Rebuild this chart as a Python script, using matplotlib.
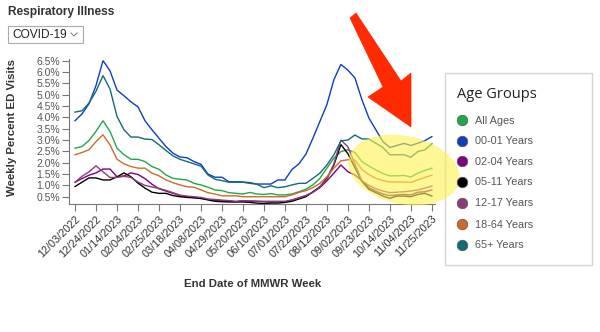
import matplotlib
matplotlib.use("Agg")
import matplotlib.pyplot as plt
from matplotlib.patches import Rectangle, Ellipse, Polygon
from matplotlib.lines import Line2D

plt.rcParams['font.family'] = ['Liberation Sans', 'DejaVu Sans']

# ---------------- data ----------------
tick_labels = ["12/03/2022", "12/24/2022", "01/14/2023", "02/04/2023", "02/25/2023",
               "03/18/2023", "04/08/2023", "04/29/2023", "05/20/2023", "06/10/2023",
               "07/01/2023", "07/22/2023", "08/12/2023", "09/02/2023", "09/23/2023",
               "10/14/2023", "11/04/2023", "11/25/2023"]
n_weeks = 52
weeks = list(range(n_weeks))
tick_weeks = weeks[::3]

group_names = ["All Ages", "00-01 Years", "02-04 Years", "05-11 Years",
               "12-17 Years", "18-64 Years", "65+ Years"]
group_colors = ["#1fa84a", "#0a3fc4", "#800080", "#000000",
                "#8b3c77", "#d06a28", "#136b78"]

all_ages = [2.64, 2.71, 2.98, 3.38, 3.85, 3.38, 2.64, 2.35, 2.15, 2.15, 2.05, 1.83, 1.71,
            1.46, 1.31, 1.27, 1.24, 1.09, 1.02, 0.92, 0.80, 0.77, 0.68, 0.65, 0.62, 0.69,
            0.62, 0.60, 0.64, 0.58, 0.58, 0.62, 0.72, 0.83, 1.02, 1.31, 1.76, 2.20, 2.49,
            2.57, 2.45, 2.05, 1.85, 1.68, 1.52, 1.42, 1.42, 1.44, 1.37, 1.54, 1.66, 1.76]
age_00_01 = [3.85, 4.15, 4.60, 5.40, 6.50, 6.05, 5.20, 4.95, 4.68, 4.46, 3.85, 3.45, 3.08,
             2.71, 2.42, 2.25, 2.22, 2.05, 1.93, 1.50, 1.36, 1.36, 1.16, 1.16, 1.15, 1.12,
             1.06, 1.06, 1.06, 1.24, 1.24, 1.70, 1.95, 2.38, 3.08, 3.82, 4.56, 5.66, 6.33,
             6.08, 5.74, 4.78, 3.97, 3.45, 2.93, 2.67, 2.76, 2.85, 2.76, 2.86, 2.97, 3.15]
age_02_04 = [1.14, 1.30, 1.45, 1.55, 1.72, 1.72, 1.38, 1.42, 1.55, 1.48, 1.30, 1.05, 0.85,
             0.75, 0.65, 0.55, 0.50, 0.47, 0.44, 0.38, 0.35, 0.33, 0.30, 0.28, 0.32, 0.30,
             0.30, 0.28, 0.27, 0.28, 0.27, 0.35, 0.45, 0.55, 0.70, 0.90, 1.20, 1.54, 1.90,
             1.60, 1.46, 1.22, 0.90, 0.75, 0.62, 0.55, 0.58, 0.60, 0.58, 0.70, 0.72, 0.80]
age_05_11 = [0.95, 1.14, 1.33, 1.33, 1.24, 1.24, 1.38, 1.55, 1.38, 1.10, 0.88, 0.70, 0.65,
             0.65, 0.55, 0.50, 0.47, 0.45, 0.42, 0.36, 0.30, 0.28, 0.27, 0.27, 0.27, 0.25,
             0.22, 0.20, 0.22, 0.22, 0.25, 0.30, 0.40, 0.50, 0.72, 0.94, 1.31, 1.90, 2.80,
             2.40, 1.78, 1.18, 0.83, 0.68, 0.53, 0.43, 0.53, 0.53, 0.50, 0.60, 0.65, 0.53]
age_12_17 = [1.14, 1.40, 1.60, 1.86, 1.60, 1.35, 1.35, 1.40, 1.35, 1.15, 1.00, 0.93, 0.87,
             0.78, 0.68, 0.57, 0.53, 0.50, 0.47, 0.40, 0.38, 0.35, 0.33, 0.30, 0.33, 0.32,
             0.30, 0.30, 0.30, 0.30, 0.30, 0.36, 0.45, 0.55, 0.70, 0.92, 1.28, 1.95, 3.00,
             2.70, 1.95, 1.20, 1.00, 0.85, 0.75, 0.68, 0.70, 0.72, 0.75, 0.80, 0.88, 0.97]
age_18_64 = [2.35, 2.45, 2.57, 2.93, 3.23, 2.79, 2.15, 1.95, 1.83, 1.76, 1.76, 1.54, 1.42,
             1.24, 1.12, 1.02, 0.94, 0.92, 0.80, 0.68, 0.62, 0.54, 0.54, 0.54, 0.50, 0.50,
             0.50, 0.50, 0.50, 0.50, 0.50, 0.58, 0.69, 0.77, 0.90, 1.09, 1.38, 1.76, 2.08,
             2.13, 2.12, 1.70, 1.48, 1.31, 1.21, 1.15, 1.15, 1.15, 1.13, 1.24, 1.35, 1.45]
age_65_plus = [4.23, 4.29, 4.63, 5.15, 5.84, 5.25, 4.04, 3.45, 3.13, 3.13, 3.04, 3.02, 2.79,
               2.54, 2.30, 2.15, 2.05, 1.95, 1.85, 1.46, 1.27, 1.21, 1.14, 1.14, 1.14, 1.09,
               1.05, 0.90, 0.98, 0.90, 0.94, 1.02, 1.09, 1.09, 1.31, 1.54, 1.90, 2.35, 2.96,
               3.00, 3.22, 3.05, 3.04, 2.86, 2.67, 2.35, 2.35, 2.35, 2.24, 2.49, 2.57, 2.83]

series = [all_ages, age_00_01, age_02_04, age_05_11, age_12_17, age_18_64, age_65_plus]
y_ticks = [0.5, 1.0, 1.5, 2.0, 2.5, 3.0, 3.5, 4.0, 4.5, 5.0, 5.5, 6.0, 6.5]

# ---------------- figure ----------------
W, H = 600, 332
fig = plt.figure(figsize=(W / 100, H / 100), dpi=100)
fig.patch.set_facecolor("white")

def fx(x):
    return x / W

def fy(y):
    return 1 - y / H

ax = fig.add_axes([fx(69), fy(204), (435 - 69) / W, (204 - 59) / H])
for vals, col in zip(series, group_colors):
    ax.plot(weeks, vals, color=col, lw=1.0, solid_joinstyle="miter")

ax.set_xlim(-0.86, 51.45)
ax.set_ylim(0.18, 6.57)
ax.set_xticks(tick_weeks)
ax.set_xticklabels(tick_labels, rotation=45, ha="right", rotation_mode="anchor",
                   fontsize=7.8, color="#333333")
ax.set_yticks(y_ticks)
ax.set_yticklabels([f"{v:.1f}%" for v in y_ticks], fontsize=7.5, color="#555555")
ax.tick_params(axis="x", length=5, width=0.8, color="#777777", pad=2)
ax.tick_params(axis="y", length=5, width=0.8, color="#777777", pad=1.5)
for s in ["top", "right"]:
    ax.spines[s].set_visible(False)
for s in ["left", "bottom"]:
    ax.spines[s].set_color("#777777")
    ax.spines[s].set_linewidth(0.8)

# axis titles
fig.text(fx(12), fy(128), "Weekly Percent ED Visits", rotation=90, ha="center",
         va="center", fontsize=8.2, fontweight="bold", color="#333333")
fig.text(fx(253), fy(284), "End Date of MMWR Week", ha="center", va="center",
         fontsize=8.2, fontweight="bold", color="#333333")

# header
fig.text(fx(8), fy(12), "Respiratory Illness", ha="left", va="center",
         fontsize=8.6, fontweight="bold", color="#333333")
fig.add_artist(Rectangle((fx(7.5), fy(43)), (83 - 7.5) / W, (43 - 26) / H,
                         transform=fig.transFigure, facecolor="white",
                         edgecolor="#aaaaaa", lw=0.8))
fig.text(fx(12), fy(34.5), "COVID-19", ha="left", va="center", fontsize=8.6,
         color="#222222")
fig.add_artist(Line2D([fx(71), fx(74), fx(77)], [fy(33), fy(36), fy(33)],
                      transform=fig.transFigure, color="#777777", lw=0.7))

# legend box
fig.add_artist(Rectangle((fx(445), fy(265)), (592 - 445) / W, (265 - 73) / H,
                         transform=fig.transFigure, facecolor="white",
                         edgecolor="#d4d4d4", lw=1.0, zorder=1))
fig.text(fx(457), fy(94), "Age Groups", ha="left", va="center", fontsize=10.5,
         family=["Open Sans", "DejaVu Sans"], color="#222222")
item_y = [120, 140.7, 161, 182, 203, 224, 244.5]
for name, col, yy in zip(group_names, group_colors, item_y):
    fig.add_artist(Line2D([fx(462)], [fy(yy)], transform=fig.transFigure,
                          marker="o", markersize=7.6, markerfacecolor=col,
                          markeredgecolor="#555555", markeredgewidth=0.5,
                          linestyle="none", zorder=7))
    fig.text(fx(475), fy(yy + 0.5), name, ha="left", va="center", fontsize=7.8,
             color="#555555")

# highlight and arrow
fig.add_artist(Ellipse((fx(404), fy(170)), 104 / W, 74 / H, angle=28,
                       transform=fig.transFigure, facecolor="#fff250",
                       edgecolor="none", alpha=0.6, zorder=5))
arrow_px = [(350, 18), (356, 13), (401, 81), (411, 73), (411, 127), (368, 97), (383, 87)]
fig.add_artist(Polygon([(fx(a), fy(b)) for a, b in arrow_px], closed=True,
                       transform=fig.transFigure, facecolor="#ff2a00",
                       edgecolor="#ff2a00", lw=0.5, zorder=6))

fig.savefig("out.png", dpi=100)
